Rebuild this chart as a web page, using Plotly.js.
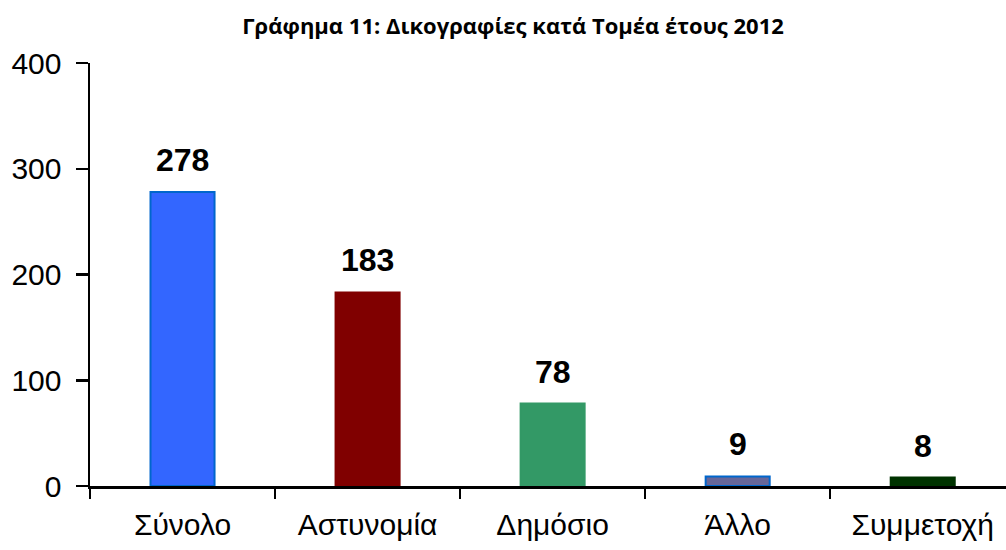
<!DOCTYPE html>
<html><head><meta charset="utf-8">
<script src="https://cdn.plot.ly/plotly-3.0.1.min.js"></script>
<style>body{margin:0}#c{width:1006px;height:550px}</style>
</head><body><div id="c"></div>
<script>
const categories = ["Σύνολο","Αστυνομία","Δημόσιο","Άλλο","Συμμετοχή"];
const values = [278,183,78,9,8];
const barColors = ["#3366FF","#800000","#339966","#666699","#003300"];
const borderColors = ["#0066CC","#800000","#339966","#0066CC","#003300"];
const yTicks = [0,100,200,300,400];

const trace = {
  type: "bar", x: categories, y: values, width: 0.346,
  marker: {color: barColors, line: {color: borderColors, width: 2}},
  hoverinfo: "none"
};
const annotations = categories.map((c,i)=>({
  x: c, y: values[i], xref: "x", yref: "y", text: String(values[i]),
  showarrow: false, yanchor: "bottom", yshift: 12,
  font: {family: "Liberation Sans, Arial", size: 32, color: "#000", weight: "bold"}
}));
const layout = {
  width: 1006, height: 550,
  margin: {l: 90, r: 0, t: 63, b: 64},
  paper_bgcolor: "#fff", plot_bgcolor: "#fff",
  showlegend: false,
  font: {family: "Liberation Sans, Arial", color: "#000"},
  title: {
    text: "<b>Γράφημα 11: Δικογραφίες κατά Τομέα έτους 2012</b>",
    x: 0.51, xref: "container", xanchor: "center",
    y: 0.953, yref: "container", yanchor: "middle",
    font: {family: "Open Sans, Noto Sans", size: 22, color: "#000"}
  },
  xaxis: {
    type: "category", range: [-0.5, 4.45], showgrid: false,
    showline: true, linecolor: "#000", linewidth: 2.5,
    ticks: "outside", tickson: "boundaries", ticklen: 10, tickwidth: 2.5, tickcolor: "#000",
    ticklabelstandoff: 10,
    tickfont: {size: 30, color: "#000"}, zeroline: false
  },
  yaxis: {
    range: [0, 400], tickvals: yTicks, showgrid: false,
    showline: true, linecolor: "#000", linewidth: 2.5,
    ticks: "outside", ticklen: 12, tickwidth: 2.5, tickcolor: "#000",
    ticklabelstandoff: 8,
    tickfont: {size: 30, color: "#000"}, zeroline: false
  },
  annotations: annotations
};
Plotly.newPlot("c", [trace], layout, {staticPlot: true});
</script></body></html>
